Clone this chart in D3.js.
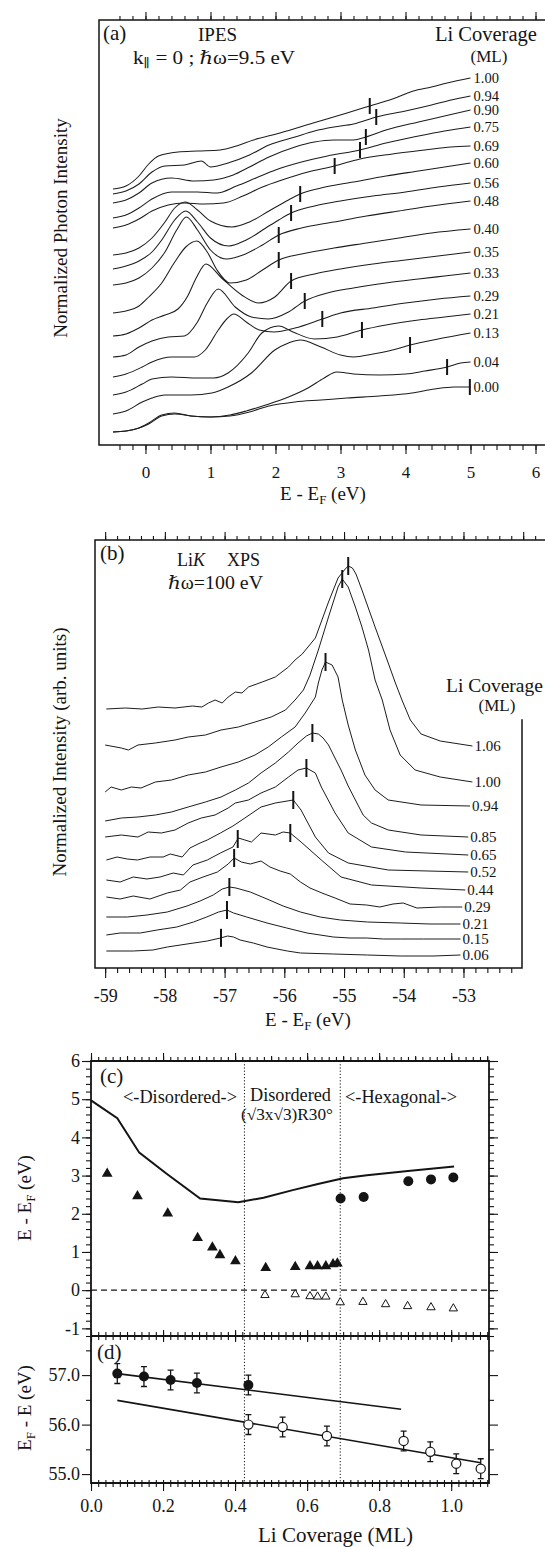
<!DOCTYPE html>
<html><head><meta charset="utf-8">
<script src="https://cdn.jsdelivr.net/npm/d3@7/dist/d3.min.js"></script>
<style>html,body{margin:0;padding:0;background:#fff;}svg{display:block;}</style>
</head><body>
<script>
// ================= DATA =================
// (a) IPES spectra, Li coverage (ML), energy E-EF (eV), normalized intensity (offset, arb.)
const ipesLabels = ["1.00","0.94","0.90","0.75","0.69","0.60","0.56","0.48","0.40","0.35","0.33","0.29","0.21","0.13","0.04","0.00"];
const ipesEnergies = [
 [-0.5,-0.3,-0.1,0.05,0.2,0.5,0.8,1.15,1.4,1.66,2.07,2.58,3.1,3.45,3.8,4.12,4.4,4.64,5.0],
 [-0.5,-0.3,-0.1,0.1,0.3,0.6,0.86,1.0,1.27,1.6,1.9,2.3,2.6,2.9,3.2,3.55,4.0,4.4,4.7,5.0],
 [-0.5,-0.3,-0.1,0.1,0.4,0.75,1.05,1.35,1.6,1.9,2.3,2.6,2.9,3.2,3.39,3.7,4.2,4.6,5.0],
 [-0.5,-0.3,-0.1,0.1,0.4,0.8,1.1,1.4,1.7,2.0,2.4,2.8,3.3,3.7,4.2,4.6,5.0],
 [-0.5,-0.3,-0.1,0.1,0.35,0.6,0.9,1.2,1.5,1.8,2.1,2.5,2.91,3.3,3.8,4.3,4.7,5.0],
 [-0.5,-0.3,-0.1,0.1,0.3,0.45,0.61,0.8,1.0,1.33,1.6,1.9,2.2,2.38,2.7,3.2,3.7,4.2,4.6,5.0],
 [-0.5,-0.3,-0.1,0.1,0.25,0.45,0.62,0.8,1.0,1.28,1.55,1.85,2.05,2.24,2.6,3.0,3.5,4.0,4.5,5.0],
 [-0.5,-0.3,-0.1,0.1,0.3,0.48,0.63,0.8,1.0,1.25,1.5,1.8,2.05,2.4,2.9,3.4,3.9,4.4,5.0],
 [-0.5,-0.3,-0.1,0.05,0.25,0.45,0.62,0.79,0.95,1.1,1.3,1.55,1.8,2.05,2.4,2.9,3.4,3.9,4.4,5.0],
 [-0.5,-0.3,-0.1,0.1,0.3,0.5,0.65,0.78,0.93,1.17,1.48,1.74,1.99,2.24,2.6,3.0,3.5,4.0,4.5,5.0],
 [-0.5,-0.3,-0.1,0.1,0.35,0.6,0.8,0.95,1.12,1.38,1.63,1.89,2.2,2.45,2.8,3.2,3.7,4.2,4.6,5.0],
 [-0.5,-0.3,-0.05,0.1,0.4,0.75,0.92,1.12,1.25,1.36,1.55,1.75,1.98,2.3,2.72,3.0,3.5,4.0,4.5,5.0],
 [-0.5,-0.3,-0.05,0.1,0.4,0.8,1.05,1.27,1.58,1.79,2.05,2.27,2.6,2.95,3.33,3.7,4.2,4.6,5.0],
 [-0.5,-0.3,-0.05,0.1,0.3,0.7,1.02,1.27,1.63,1.99,2.2,2.38,2.7,3.0,3.2,3.5,3.8,4.07,4.5,5.0],
 [-0.5,-0.3,-0.1,0.05,0.25,0.45,0.7,1.0,1.3,1.55,1.85,2.2,2.5,2.75,2.94,3.2,3.6,4.0,4.3,4.64,4.85,5.0],
 [-0.5,-0.3,-0.1,0.05,0.25,0.45,0.7,1.0,1.3,1.6,1.9,2.3,2.7,3.1,3.6,4.1,4.45,4.75,5.0]
];
const ipesIntensities = [
 [256,259,269,281,289,293,294,295,299,305,312,322,332,339,346,354,358,362,367],
 [251,254,261,273,279,280,284,278,282,290,300,308,314,318,321,328,334,340,345,349],
 [242,245,252,262,267,264,265,270,278,288,298,303,305,305,308,315,323,329,335],
 [227,230,237,246,253,253,252,259,267,275,283,289,295,302,309,314,318],
 [217,220,226,234,240,242,241,242,249,258,265,273,279,286,291,295,298,299],
 [190,192,197,207,223,237,243,235,224,218,223,234,245,251,257,263,269,274,278,282],
 [176,179,184,193,205,225,234,223,207,199,205,217,225,232,239,244,249,253,258,262],
 [160,162,167,177,193,215,228,215,195,186,190,200,210,217,223,229,234,239,244],
 [132,134,139,148,162,183,198,204,193,175,162,165,175,185,191,197,202,207,212,216],
 [109,111,117,125,130,136,149,167,181,167,150,142,148,164,171,176,181,185,189,193],
 [88,90,98,104,108,109,123,142,156,138,128,126,133,144,152,157,162,166,169,172],
 [68,71,78,83,88,88,95,115,126,131,123,115,113,117,126,132,137,142,146,149],
 [50,53,61,66,68,67,67,72,92,112,119,113,106,108,115,120,125,128,131],
 [31,34,43,47,50,50,52,58,72,95,102,105,98,90,88,91,95,100,106,112],
 [13,14,17,21,29,31,29,28,30,34,40,48,57,67,73,71,70,71,74,78,82,83],
 [13,14,17,22,30,32,29,28,29,33,39,43,45,47,49,52,56,58,58]
];
const ipesMarkers = [3.45,3.55,3.39,3.3,2.91,2.38,2.24,2.05,2.05,2.24,2.45,2.72,3.33,4.07,4.64,4.99];
const ipesTickLabels = [0,1,2,3,4,5,6];

// (b) Li K XPS spectra
const xpsLabels = ["1.06","1.00","0.94","0.85","0.65","0.52","0.44","0.29","0.21","0.15","0.06"];
const xpsEnergies = [
 [-58.98,-58.66,-58.38,-58.11,-57.83,-57.54,-57.38,-57.27,-57.16,-57.04,-56.94,-56.82,-56.71,-56.60,-56.37,-56.15,-55.93,-55.82,-55.70,-55.48,-55.26,-55.10,-54.98,-54.93,-54.86,-54.80,-54.70,-54.48,-54.26,-54.14,-54.03,-53.89,-53.71,-53.39,-52.85],
 [-59.00,-58.73,-58.61,-58.45,-58.16,-57.83,-57.61,-57.32,-57.06,-56.77,-56.49,-56.22,-55.98,-55.82,-55.68,-55.57,-55.43,-55.26,-55.10,-55.03,-54.93,-54.81,-54.70,-54.59,-54.48,-54.36,-54.23,-54.06,-53.81,-53.39,-52.85],
 [-59.00,-58.90,-58.73,-58.56,-58.40,-58.16,-57.89,-57.61,-57.32,-57.06,-56.77,-56.49,-56.27,-56.05,-55.82,-55.65,-55.48,-55.43,-55.37,-55.31,-55.20,-55.10,-55.03,-54.93,-54.81,-54.65,-54.48,-54.26,-53.71,-52.89],
 [-59.00,-58.73,-58.45,-58.16,-57.89,-57.61,-57.32,-57.06,-56.82,-56.60,-56.39,-56.15,-55.93,-55.77,-55.63,-55.53,-55.43,-55.35,-55.26,-55.16,-55.05,-54.93,-54.81,-54.68,-54.54,-54.26,-53.71,-52.92],
 [-59.00,-58.73,-58.45,-58.28,-58.06,-57.83,-57.61,-57.39,-57.16,-56.94,-56.82,-56.60,-56.39,-56.15,-55.93,-55.77,-55.63,-55.48,-55.38,-55.15,-54.93,-54.54,-53.97,-52.92],
 [-58.98,-58.80,-58.63,-58.46,-58.25,-58.03,-57.91,-57.71,-57.58,-57.41,-57.29,-57.07,-56.86,-56.66,-56.39,-56.15,-55.85,-55.72,-55.48,-55.26,-54.93,-54.26,-52.92],
 [-58.98,-58.75,-58.53,-58.30,-58.08,-57.86,-57.69,-57.53,-57.29,-57.07,-56.86,-56.77,-56.66,-56.55,-56.39,-56.15,-56.02,-55.90,-55.72,-55.38,-55.05,-54.54,-53.71,-52.97],
 [-58.98,-58.75,-58.53,-58.25,-57.96,-57.74,-57.58,-57.36,-57.12,-56.94,-56.84,-56.72,-56.57,-56.39,-56.24,-56.07,-55.90,-55.73,-55.57,-55.37,-55.15,-54.90,-54.62,-54.40,-54.18,-54.01,-53.78,-53.39,-53.02],
 [-58.98,-58.63,-58.30,-57.96,-57.63,-57.41,-57.19,-57.04,-56.92,-56.81,-56.57,-56.29,-56.02,-55.73,-55.40,-55.06,-54.61,-54.06,-53.56,-53.05],
 [-58.98,-58.75,-58.41,-58.13,-57.80,-57.52,-57.30,-57.10,-56.96,-56.85,-56.63,-56.29,-55.96,-55.62,-55.18,-54.90,-54.62,-54.34,-54.06,-53.67,-53.05],
 [-58.98,-58.53,-58.20,-57.96,-57.63,-57.29,-57.07,-56.95,-56.85,-56.74,-56.52,-56.29,-55.95,-55.73,-55.18,-54.61,-54.06,-53.51,-53.05]
];
const xpsIntensities = [
 [259,260,259,261,260,262,261,265,268,265,271,276,275,281,286,291,301,308,314,330,366,390,399,402,400,394,378,341,305,285,268,248,234,227,222],
 [223,220,218,223,225,228,231,233,238,241,246,251,258,268,278,293,318,351,381,389,381,361,341,318,288,268,238,213,198,191,186],
 [176,181,178,181,180,186,188,193,196,201,206,213,221,231,241,255,271,285,298,306,303,291,268,243,218,193,178,168,163,162],
 [147,150,151,153,156,161,166,171,178,185,195,205,216,225,232,235,234,230,223,211,198,182,168,153,145,138,133,131],
 [131,133,131,136,135,138,145,150,153,160,165,168,175,181,191,198,200,195,181,155,135,121,116,113],
 [108,111,109,108,111,111,114,111,120,125,128,135,142,150,161,165,168,158,131,115,105,98,96],
 [88,86,91,89,91,95,93,103,108,115,121,130,128,126,135,133,136,135,126,108,91,83,80,78],
 [71,69,72,69,75,78,86,91,96,104,110,106,104,107,101,97,94,86,80,75,70,64,63,61,64,65,60,61,61],
 [51,51,53,56,62,67,73,79,81,80,76,69,62,56,51,48,46,45,44,44],
 [33,35,35,38,41,46,51,56,58,55,51,45,40,35,31,30,30,29,29,29,29],
 [17,17,18,21,24,27,30,32,31,28,25,21,17,15,14,13,12,12,13]
];
const xpsMarkers = [[-54.93],[-55.03],[-55.31],[-55.53],[-55.63],[-55.85],[-56.78,-55.90],[-56.84],[-56.92],[-56.96],[-57.06]];
const xpsTickLabels = [-59,-58,-57,-56,-55,-54,-53];

// (c) peak positions vs Li coverage
const cLineCov = [0, 0.073, 0.134, 0.21, 0.303, 0.409, 0.479, 0.56, 0.63, 0.70, 0.766, 0.88, 1.008];
const cLineE   = [4.97, 4.50, 3.60, 3.05, 2.40, 2.30, 2.42, 2.62, 2.78, 2.93, 3.01, 3.12, 3.24];
const cTriFilledCov = [0.045,0.129,0.213,0.296,0.337,0.358,0.401,0.485,0.567,0.608,0.629,0.652,0.672,0.684];
const cTriFilledE   = [3.05,2.46,2.01,1.37,1.12,0.92,0.76,0.58,0.61,0.63,0.63,0.63,0.68,0.70];
const cCircFilledCov = [0.693,0.757,0.881,0.944,1.006];
const cCircFilledE   = [2.40,2.44,2.85,2.90,2.95];
const cTriOpenCov = [0.483,0.567,0.608,0.629,0.652,0.692,0.755,0.818,0.879,0.944,1.006];
const cTriOpenE   = [-0.13,-0.11,-0.16,-0.17,-0.17,-0.32,-0.31,-0.37,-0.42,-0.45,-0.48];
const cTickLabels = [-1,0,1,2,3,4,5,6];
const phaseBounds = [0.426, 0.692];
const phaseNames = ["<-Disordered->", "Disordered", "(\u221A3x\u221A3)R30\u00B0", "<-Hexagonal->"];

// (d) Li 1s binding energy vs Li coverage
const dFilledCov = [0.073,0.147,0.221,0.294,0.437];
const dFilledE   = [57.03,56.97,56.90,56.84,56.80];
const dFilledErr = [0.2,0.2,0.2,0.2,0.2];
const dOpenCov = [0.437,0.532,0.655,0.868,0.942,1.014,1.082];
const dOpenE   = [56.00,55.95,55.77,55.67,55.45,55.21,55.11];
const dOpenErr = [0.2,0.2,0.2,0.2,0.2,0.2,0.2];
const dFitUpperCov = [0.073, 0.861], dFitUpperE = [57.03, 56.31];
const dFitLowerCov = [0.073, 1.082], dFitLowerE = [56.49, 55.23];
const dTickLabels = [55, 56, 57];
const coverageTickLabels = [0, 0.2, 0.4, 0.6, 0.8, 1.0];

// ================= DRAWING =================
const FONT = '"Liberation Serif","Times New Roman","DejaVu Serif",serif';
const INK = "#141414";
const svg = d3.select("body").append("svg").attr("width",545).attr("height",1547).attr("viewBox","0 0 545 1547");
svg.append("rect").attr("width",545).attr("height",1547).attr("fill","#fff");

function steps(a,b,s){ const n=Math.round((b-a)/s); return d3.range(n+1).map(i=>+(a+i*s).toFixed(4)); }
function interp(xs,ys,x){ for(let i=1;i<xs.length;i++){ if(x<=xs[i]){ const t=(x-xs[i-1])/(xs[i]-xs[i-1]); return ys[i-1]+t*(ys[i]-ys[i-1]); } } return ys[ys.length-1]; }

function ticks(orient, scale, values, size, tx, ty, o={}) {
  const gen = {bottom:d3.axisBottom, top:d3.axisTop, left:d3.axisLeft, right:d3.axisRight}[orient](scale)
    .tickValues(values).tickSizeInner(size).tickSizeOuter(0).tickPadding(o.pad==null?3:o.pad)
    .tickFormat(o.fmt || (() => ""));
  const g = svg.append("g").attr("transform", `translate(${tx},${ty})`).call(gen);
  g.select(".domain").remove();
  g.selectAll(".tick line").attr("stroke", INK).attr("stroke-width", o.sw || 1.1);
  g.selectAll(".tick text").attr("font-family", FONT).attr("font-size", o.fs || 16).attr("fill", INK);
  return g;
}
function frame(d, sw){ svg.append("path").attr("d",d).attr("fill","none").attr("stroke",INK).attr("stroke-width",sw||1.5).attr("stroke-linecap","square"); }
function txt(x, y, content, o={}) {
  const fs = o.fs || 18;
  const t = svg.append("text").attr("x",x).attr("y",y).attr("font-family",FONT).attr("font-size",fs).attr("fill",INK);
  if (o.anchor) t.attr("text-anchor",o.anchor);
  if (o.rotate) t.attr("transform",`rotate(-90,${x},${y})`);
  if (o.len) t.attr("textLength",o.len).attr("lengthAdjust","spacingAndGlyphs");
  if (typeof content === "string") t.text(content);
  else content.forEach(p => {
    const s = t.append("tspan").text(p.t);
    if (p.sub) s.attr("font-size", fs*0.68);
    if (p.dy != null) s.attr("dy", p.dy);
    if (p.it) s.attr("font-style","italic");
    if (p.x != null) s.attr("x", p.x);
  });
  return t;
}

// ---------- (a) IPES ----------
const xA = d3.scaleLinear().domain([-0.715, 6.146]).range([99, 545]);
const yA = d3.scaleLinear().domain([0, 425]).range([445, 20]);
frame("M99,20V445M99,20H545M99,445H545", 1.5);
ticks("bottom", xA, ipesTickLabels, 9, 0, 445, {fmt:d=>String(d), fs:17, pad:12});
ticks("bottom", xA, steps(-0.4,6,0.2), 5, 0, 445);
ticks("top", xA, ipesTickLabels, 8, 0, 20);
ticks("top", xA, steps(-0.4,6,0.2), 4, 0, 20);

const lineA = d3.line().x(d=>xA(d[0])).y(d=>yA(d[1])).curve(d3.curveMonotoneX);
const gA = svg.append("g");
ipesLabels.forEach((lab,i)=>{
  const pts = ipesEnergies[i].map((e,j)=>[e, ipesIntensities[i][j]]);
  gA.append("path").attr("d", lineA(pts)).attr("fill","none").attr("stroke","#1c1c1c").attr("stroke-width",1.05);
  const e = ipesMarkers[i], v = interp(ipesEnergies[i], ipesIntensities[i], e);
  gA.append("line").attr("x1",xA(e)).attr("x2",xA(e)).attr("y1",yA(v)-8).attr("y2",yA(v)+8).attr("stroke",INK).attr("stroke-width",2);
  const last = pts[pts.length-1];
  txt(xA(last[0])+3, yA(last[1]), lab, {fs:14.5}).attr("dy","0.35em");
});
txt(103, 40, "(a)", {fs:21});
txt(198, 41, "IPES", {fs:19});
txt(133, 64, [{t:"k"},{t:"\u2225",sub:true,dy:3},{t:" = 0 ;  \u210Fω=9.5 eV",dy:-3}], {fs:18, len:162});
txt(435, 41, "Li Coverage", {fs:20.5});
txt(489, 62, "(ML)", {fs:17, anchor:"middle"});
txt(323, 500, [{t:"E - E"},{t:"F",sub:true,dy:4},{t:" (eV)",dy:-4}], {fs:19, anchor:"middle"});
txt(67, 228, "Normalized Photon Intensity", {fs:19, anchor:"middle", rotate:true});

// ---------- (b) XPS ----------
const xB = d3.scaleLinear().domain([-59.17, -52.02]).range([95, 522]);
const yB = d3.scaleLinear().domain([0, 428]).range([968, 540]);
frame("M95,540V968M95,540H545M95,968H522M522,720V968", 1.5);
ticks("bottom", xB, xpsTickLabels, 10, 0, 968, {fmt:d=>String(d), fs:18, pad:11});
ticks("bottom", xB, steps(-59,-52.2,0.2), 5, 0, 968);
ticks("top", xB, steps(-59,-52,1), 8, 0, 540);
ticks("top", xB, steps(-59,-51.6,0.2), 4, 0, 540);

const lineB = d3.line().x(d=>xB(d[0])).y(d=>yB(d[1])).curve(d3.curveLinear);
const gB = svg.append("g");
xpsLabels.forEach((lab,i)=>{
  const pts = xpsEnergies[i].map((e,j)=>[e, xpsIntensities[i][j]]);
  gB.append("path").attr("d", lineB(pts)).attr("fill","none").attr("stroke","#1c1c1c").attr("stroke-width",1).attr("stroke-linejoin","round");
  xpsMarkers[i].forEach(e=>{
    const v = interp(xpsEnergies[i], xpsIntensities[i], e);
    gB.append("line").attr("x1",xB(e)).attr("x2",xB(e)).attr("y1",yB(v)-9).attr("y2",yB(v)+9).attr("stroke",INK).attr("stroke-width",2);
  });
  const last = pts[pts.length-1];
  txt(xB(last[0])+2, yB(last[1]), lab, {fs:15}).attr("dy","0.35em");
});
txt(100, 560, "(b)", {fs:21});
txt(177, 566, [{t:"Li"},{t:"K",it:true},{t:"XPS",x:227}], {fs:18});
txt(168, 589, "\u210Fω=100 eV", {fs:18, len:95});
txt(446, 692, "Li Coverage", {fs:19.5});
txt(497, 711, "(ML)", {fs:17, anchor:"middle"});
txt(308, 1026, [{t:"E - E"},{t:"F",sub:true,dy:4},{t:" (eV)",dy:-4}], {fs:19, anchor:"middle"});
txt(66, 752, "Normalized Intensity (arb. units)", {fs:19, anchor:"middle", rotate:true});

// ---------- (c) & (d) ----------
const xC = d3.scaleLinear().domain([0, 1.105]).range([91, 489]);
const yC = d3.scaleLinear().domain([-1.2, 6]).range([1336, 1061]);
const yD = d3.scaleLinear().domain([54.82, 57.79]).range([1483, 1336]);

// phase boundaries and zero line
phaseBounds.forEach(b=>{
  svg.append("line").attr("x1",xC(b)).attr("x2",xC(b)).attr("y1",1061).attr("y2",1483)
    .attr("stroke",INK).attr("stroke-width",1).attr("stroke-dasharray","1.2,2");
});
svg.append("line").attr("x1",xC(0)).attr("x2",xC(1.105)).attr("y1",yC(0)).attr("y2",yC(0))
  .attr("stroke",INK).attr("stroke-width",1.2).attr("stroke-dasharray","6,4");

frame("M91,1061H489V1483H91ZM91,1336H489", 1.8);
ticks("left", yC, cTickLabels, 9, 91, 0, {fmt:d=>String(d), fs:18, pad:2});
ticks("left", yC, steps(-1.2,6,0.2), 5, 91, 0);
ticks("right", yC, cTickLabels, 9, 489, 0);
ticks("right", yC, steps(-1.2,6,0.2), 5, 489, 0);
ticks("top", xC, steps(0,1.1,0.02), 4, 0, 1061);
ticks("top", xC, steps(0,1.1,0.1), 5, 0, 1061);
ticks("top", xC, steps(0,1,0.2), 8, 0, 1061);
ticks("top", xC, steps(0,1.1,0.02), 4, 0, 1336);
ticks("bottom", xC, steps(0,1.1,0.02), 4, 0, 1336);
ticks("top", xC, steps(0,1,0.2), 6, 0, 1336);
ticks("bottom", xC, steps(0,1,0.2), 6, 0, 1336);
ticks("left", yD, dTickLabels, 9, 91, 0, {fmt:d3.format(".1f"), fs:18, pad:2});
ticks("left", yD, [55.5,56.5,57.5], 5, 91, 0);
ticks("right", yD, dTickLabels, 9, 489, 0);
ticks("right", yD, [55.5,56.5,57.5], 5, 489, 0);
ticks("bottom", xC, steps(0,1.1,0.02), 4, 0, 1483);
ticks("top", xC, steps(0,1.1,0.02), 3, 0, 1483);
ticks("bottom", xC, coverageTickLabels, 8, 0, 1483, {fmt:d3.format(".1f"), fs:18, pad:8});

// (c) line and markers
const lineC = d3.line().x((d,i)=>xC(cLineCov[i])).y((d,i)=>yC(cLineE[i]));
svg.append("path").attr("d", lineC(cLineCov)).attr("fill","none").attr("stroke",INK).attr("stroke-width",2);
const triBig = d3.symbol().type(d3.symbolTriangle).size(50);
const triSmall = d3.symbol().type(d3.symbolTriangle).size(30);
cTriFilledCov.forEach((c,i)=>svg.append("path").attr("d",triBig()).attr("transform",`translate(${xC(c)},${yC(cTriFilledE[i])})`).attr("fill",INK));
cTriOpenCov.forEach((c,i)=>svg.append("path").attr("d",triSmall()).attr("transform",`translate(${xC(c)},${yC(cTriOpenE[i])})`).attr("fill","#fff").attr("stroke",INK).attr("stroke-width",1));
cCircFilledCov.forEach((c,i)=>svg.append("circle").attr("cx",xC(c)).attr("cy",yC(cCircFilledE[i])).attr("r",5).attr("fill",INK));

txt(100, 1083, "(c)", {fs:21});
txt(123, 1103, phaseNames[0], {fs:18, len:114});
txt(250, 1101, phaseNames[1], {fs:18, len:81});
txt(241, 1120, phaseNames[2], {fs:16, len:92});
txt(345, 1103, phaseNames[3], {fs:18, len:112});
txt(31, 1198, [{t:"E - E"},{t:"F",sub:true,dy:4},{t:" (eV)",dy:-4}], {fs:19, anchor:"middle", rotate:true});

// (d) fits, error bars, markers
const lineD = d3.line().x(d=>xC(d[0])).y(d=>yD(d[1]));
svg.append("path").attr("d", lineD(dFitUpperCov.map((c,i)=>[c,dFitUpperE[i]]))).attr("stroke",INK).attr("stroke-width",1.6).attr("fill","none");
svg.append("path").attr("d", lineD(dFitLowerCov.map((c,i)=>[c,dFitLowerE[i]]))).attr("stroke",INK).attr("stroke-width",1.6).attr("fill","none");
function errBar(c, e, err){
  const x = xC(c);
  svg.append("path").attr("d",`M${x},${yD(e+err)}V${yD(e-err)}M${x-3},${yD(e+err)}H${x+3}M${x-3},${yD(e-err)}H${x+3}`)
    .attr("stroke",INK).attr("stroke-width",1.3).attr("fill","none");
}
dFilledCov.forEach((c,i)=>errBar(c,dFilledE[i],dFilledErr[i]));
dOpenCov.forEach((c,i)=>errBar(c,dOpenE[i],dOpenErr[i]));
dFilledCov.forEach((c,i)=>svg.append("circle").attr("cx",xC(c)).attr("cy",yD(dFilledE[i])).attr("r",5).attr("fill",INK));
dOpenCov.forEach((c,i)=>svg.append("circle").attr("cx",xC(c)).attr("cy",yD(dOpenE[i])).attr("r",4.6).attr("fill","#fff").attr("stroke",INK).attr("stroke-width",1.2));

txt(97, 1359, "(d)", {fs:21});
txt(31, 1408, [{t:"E"},{t:"F",sub:true,dy:4},{t:" - E (eV)",dy:-4}], {fs:19, anchor:"middle", rotate:true});
txt(258, 1542, "Li Coverage (ML)", {fs:21});
</script>
</body></html>
